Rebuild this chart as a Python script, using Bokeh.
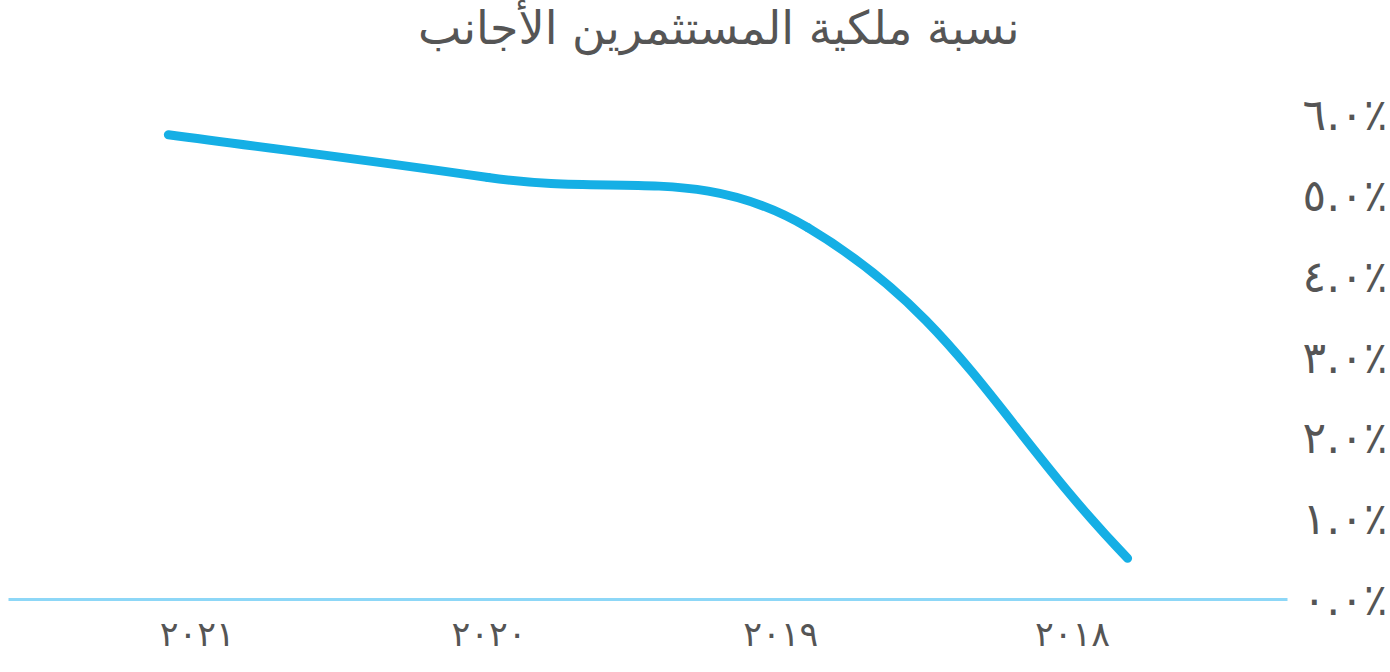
import numpy as np
from bokeh.plotting import figure
from bokeh.models import Range1d, FixedTicker, Title
from bokeh.embed import file_html
from bokeh.resources import INLINE

# ---- data ----
title_text = "نسبة ملكية المستثمرين الأجانب"
years = ["٢٠٢١", "٢٠٢٠", "٢٠١٩", "٢٠١٨"]
shares = [5.75, 5.22, 4.60, 0.51]
y_ticks = [0, 1, 2, 3, 4, 5, 6]
y_tick_labels = ["٠.٠٪", "١.٠٪", "٢.٠٪", "٣.٠٪", "٤.٠٪", "٥.٠٪", "٦.٠٪"]

# ---- layout ----
W, H = 1390, 672
BORDER_L, BORDER_R, BORDER_T, BORDER_B = 8, 102, 114, 73
frame_w = W - BORDER_L - BORDER_R
frame_h = H - BORDER_T - BORDER_B
FONT = "DejaVu Sans"
TEXT_COLOR = "#555555"
LINE_COLOR = "#15afe5"
AXIS_COLOR = "#8dd7f7"
LABEL_RANGE = (-0.147, 4.237)   # band used by the year labels in the reference

n = len(years)
xs = np.arange(n) + 0.5
ys = np.array(shares, dtype=float)
y_min, y_max = y_ticks[0], y_ticks[-1]

p = figure(width=W, height=H, output_backend="svg", toolbar_location=None,
           x_range=Range1d(0, n), y_range=Range1d(y_min, y_max),
           y_axis_location="right",
           min_border_left=BORDER_L, min_border_right=BORDER_R,
           min_border_top=BORDER_T, min_border_bottom=BORDER_B)
p.extra_x_ranges = {"labels": Range1d(*LABEL_RANGE)}
p.outline_line_color = None
p.xgrid.visible = False
p.ygrid.visible = False
p.background_fill_color = "white"
p.border_fill_color = "white"

# spacer between frame and title, then title at the top
p.add_layout(Title(text=" ", text_font_size="10px", standoff=45), "above")
p.title.text = title_text
p.title.align = "right"
p.title.vertical_align = "top"
p.title.offset = 268
p.title.standoff = 0
p.title.text_font = FONT
p.title.text_font_size = "46px"
p.title.text_font_style = "normal"
p.title.text_color = TEXT_COLOR

# smooth line (cubic spline with tension, computed in pixel space)
kx = frame_w / n
ky = frame_h / (y_max - y_min)
px = xs * kx
py = ys * ky
tension = 0.4
cp_prev = np.zeros((n, 2))
cp_next = np.zeros((n, 2))
for i in range(n):
    cur = np.array([px[i], py[i]])
    prv = np.array([px[i - 1], py[i - 1]]) if i > 0 else cur
    nxt = np.array([px[i + 1], py[i + 1]]) if i < n - 1 else cur
    d01 = np.hypot(*(cur - prv))
    d12 = np.hypot(*(nxt - cur))
    tot = d01 + d12
    s01 = d01 / tot if tot else 0
    s12 = d12 / tot if tot else 0
    cp_prev[i] = cur - tension * s01 * (nxt - prv)
    cp_next[i] = cur + tension * s12 * (nxt - prv)

p.bezier(x0=xs[:-1], y0=ys[:-1], x1=xs[1:], y1=ys[1:],
         cx0=cp_next[:-1, 0] / kx, cy0=cp_next[:-1, 1] / ky,
         cx1=cp_prev[1:, 0] / kx, cy1=cp_prev[1:, 1] / ky,
         line_color=LINE_COLOR, line_width=9, line_cap="round")

# x axis
xa = p.xaxis[0]
xa.x_range_name = "labels"
xa.ticker = FixedTicker(ticks=list(xs))
xa.major_label_overrides = {float(x): lab for x, lab in zip(xs, years)}
xa.axis_line_color = AXIS_COLOR
xa.axis_line_width = 3
xa.major_tick_line_color = None
xa.minor_tick_line_color = None
xa.major_label_text_font = FONT
xa.major_label_text_font_size = "35px"
xa.major_label_text_color = TEXT_COLOR
xa.major_label_standoff = 8

# y axis (right)
ya = p.yaxis[0]
ya.ticker = FixedTicker(ticks=y_ticks)
ya.major_label_overrides = {t: lab for t, lab in zip(y_ticks, y_tick_labels)}
ya.axis_line_color = None
ya.major_tick_line_color = None
ya.minor_tick_line_color = None
ya.major_label_text_font = FONT
ya.major_label_text_font_size = "44px"
ya.major_label_text_color = TEXT_COLOR
ya.major_label_text_baseline = "alphabetic"
ya.major_label_standoff = 9

open("out.html", "w").write(file_html(p, INLINE))
